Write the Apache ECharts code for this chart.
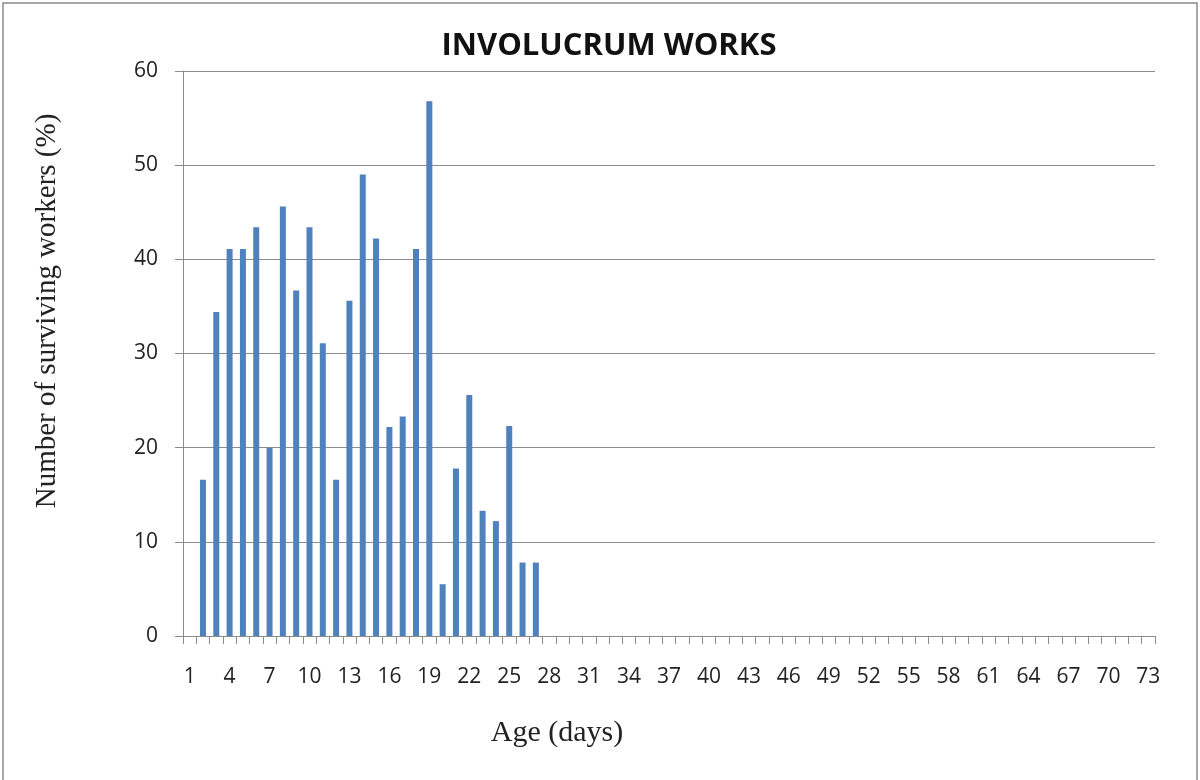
<!DOCTYPE html>
<html>
<head>
<meta charset="utf-8">
<script src="https://cdn.jsdelivr.net/npm/echarts@6/dist/echarts.min.js"></script>
<style>
  html, body { margin: 0; padding: 0; background: #fff; }
  #chart { width: 1200px; height: 780px; }
</style>
</head>
<body>
<div id="chart"></div>
<script>
// Age in days along the x axis (1 to 73)
const days = Array.from({ length: 73 }, (_, i) => String(i + 1));

// Surviving workers (%) on involucrum work, by age in days (day 1 to day 27)
const survivingPct = [
  null, 16.6, 34.4, 41.1, 41.1, 43.4, 20.0, 45.6, 36.7, 43.4,
  31.1, 16.6, 35.6, 49.0, 42.2, 22.2, 23.3, 41.1, 56.8, 5.5,
  17.8, 25.6, 13.3, 12.2, 22.3, 7.8, 7.8
];

// y axis ticks
const yTicks = { min: 0, max: 60, step: 10 };

const seriesData = days.map((d, i) => (i < survivingPct.length ? survivingPct[i] : null));

const chart = echarts.init(document.getElementById('chart'));
chart.setOption({
  animation: false,
  backgroundColor: '#ffffff',
  title: {
    text: 'INVOLUCRUM WORKS',
    left: 604,
    top: 26,
    textAlign: 'center',
    textStyle: { fontFamily: 'Open Sans', fontWeight: 'bold', fontSize: 31, color: '#111' }
  },
  grid: { left: 183, right: 45, top: 71, bottom: 144 },
  xAxis: {
    type: 'category',
    data: days,
    boundaryGap: true,
    axisLine: { lineStyle: { color: '#8c8c8c', width: 1 } },
    axisTick: { show: true, interval: 0, length: 8, lineStyle: { color: '#8c8c8c' } },
    axisLabel: { interval: 2, margin: 31, fontFamily: 'Open Sans', fontSize: 21, color: '#222' },
    splitLine: { show: false }
  },
  yAxis: {
    type: 'value',
    min: yTicks.min,
    max: yTicks.max,
    interval: yTicks.step,
    axisLine: { show: true, lineStyle: { color: '#8c8c8c', width: 1 } },
    axisTick: { show: true, length: 8, lineStyle: { color: '#8c8c8c' } },
    axisLabel: { margin: 25, fontFamily: 'Open Sans', fontSize: 21, color: '#222' },
    splitLine: { show: true, lineStyle: { color: '#8c8c8c', width: 1 } }
  },
  series: [{
    type: 'bar',
    data: seriesData,
    barWidth: 6,
    itemStyle: { color: '#4f81bd' }
  }],
  graphic: [
    {
      type: 'rect',
      shape: { x: 3, y: 3, width: 1194, height: 790 },
      style: { fill: 'none', stroke: '#8a8a8a', lineWidth: 1.5 },
      silent: true
    },
    {
      type: 'text',
      x: 47,
      y: 311,
      rotation: Math.PI / 2,
      style: {
        text: 'Number of surviving workers (%)',
        font: '29px "Liberation Serif"',
        fill: '#222',
        textAlign: 'center',
        textVerticalAlign: 'middle'
      }
    },
    {
      type: 'text',
      x: 557,
      y: 733,
      style: {
        text: 'Age (days)',
        font: '30px "Liberation Serif"',
        fill: '#222',
        textAlign: 'center',
        textVerticalAlign: 'middle'
      }
    }
  ]
});
</script>
</body>
</html>
